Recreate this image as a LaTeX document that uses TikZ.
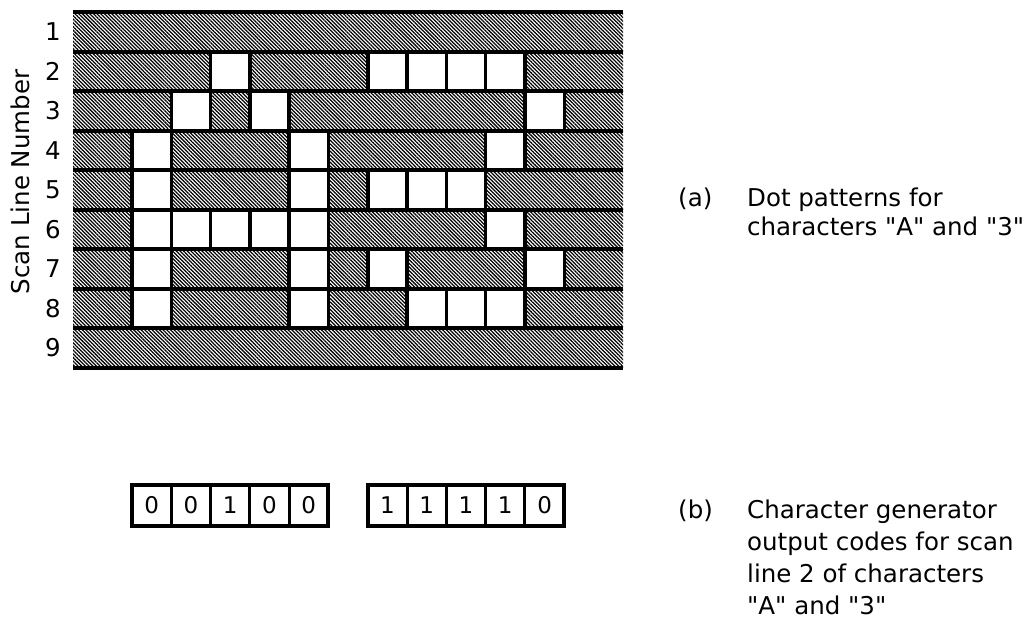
\documentclass[tikz,border=0pt]{standalone}
\usepackage{fontspec}
\newfontfamily\tfont{DejaVu Sans}
\usetikzlibrary{patterns.meta}
\begin{document}
\begin{tikzpicture}[x=1pt,y=-1pt,
  band/.style={fill=white, postaction={pattern={Lines[angle=-45,distance=2.6pt,line width=1.25pt]}, pattern color=black}},
  dotcell/.style={fill=white, draw=black, line width=3.5pt},
  rulel/.style={line width=4pt},
  lbl/.style={font=\tfont\fontsize{24.5}{30}\selectfont, inner sep=0pt},
  digit/.style={font=\tfont\fontsize{23}{27}\selectfont, inner sep=0pt},
  boxo/.style={draw=black, line width=4pt},
  boxd/.style={draw=black, line width=3pt}]
\useasboundingbox (0,0) rectangle (1029,630);
\def\p{39.3}
\def\h{39.5}
% bands
\foreach \r in {1,...,9}{
  \path[band] (73,{12+\h*(\r-1)}) rectangle (623,{12+\h*\r});
}
% dots: column index k (0..4 = A, 6..10 = 3), row
\foreach \k/\r in {2/2, 1/3, 3/3, 0/4, 4/4, 0/5, 4/5, 0/6, 1/6, 2/6, 3/6, 4/6, 0/7, 4/7, 0/8, 4/8,
  6/2, 7/2, 8/2, 9/2, 10/3, 9/4, 6/5, 7/5, 8/5, 9/6, 6/7, 10/7, 7/8, 8/8, 9/8}{
  \draw[dotcell] ({131.95+\p*\k},{12+\h*(\r-1)}) rectangle ({131.95+\p*(\k+1)},{12+\h*\r});
}
% scan lines
\foreach \j in {0,...,9}{
  \draw[rulel] (73,{12+\h*\j}) -- (623,{12+\h*\j});
}
% row numbers
\foreach \r in {1,...,9}{
  \node[lbl] (n\r) at (53,{12+\h*(\r-0.5)}) {\r};
}
\node[lbl, rotate=90] (axis) at (20,182) {Scan Line Number};
% output code boxes
\foreach \s/\bits [count=\b] in {0/{0,0,1,0,0}, 6/{1,1,1,1,0}}{
  \foreach \v [count=\i from 0] in \bits {
    \draw[boxd] ({131.95+\p*(\s+\i)},485) rectangle ({131.95+\p*(\s+\i+1)},526);
    \node[digit] (d\b\i) at ({131.95+\p*(\s+\i+0.5)},505.5) {\v};
  }
  \draw[boxo] ({131.95+\p*\s},485) rectangle ({131.95+\p*(\s+5)},526);
}
% captions
\node[lbl, anchor=base west] (ta) at (678,206) {(a)};
\node[lbl, anchor=base west] (ta1) at (747,206) {Dot patterns for};
\node[lbl, anchor=base west] (ta2) at (747,235) {characters "A" and "3"};
\node[lbl, anchor=base west] (tb) at (678,518) {(b)};
\node[lbl, anchor=base west] (tb1) at (747,518) {Character generator};
\node[lbl, anchor=base west] (tb2) at (747,550) {output codes for scan};
\node[lbl, anchor=base west] (tb3) at (747,582) {line 2 of characters};
\node[lbl, anchor=base west] (tb4) at (747,614) {"A" and "3"};
\end{tikzpicture}
\end{document}
